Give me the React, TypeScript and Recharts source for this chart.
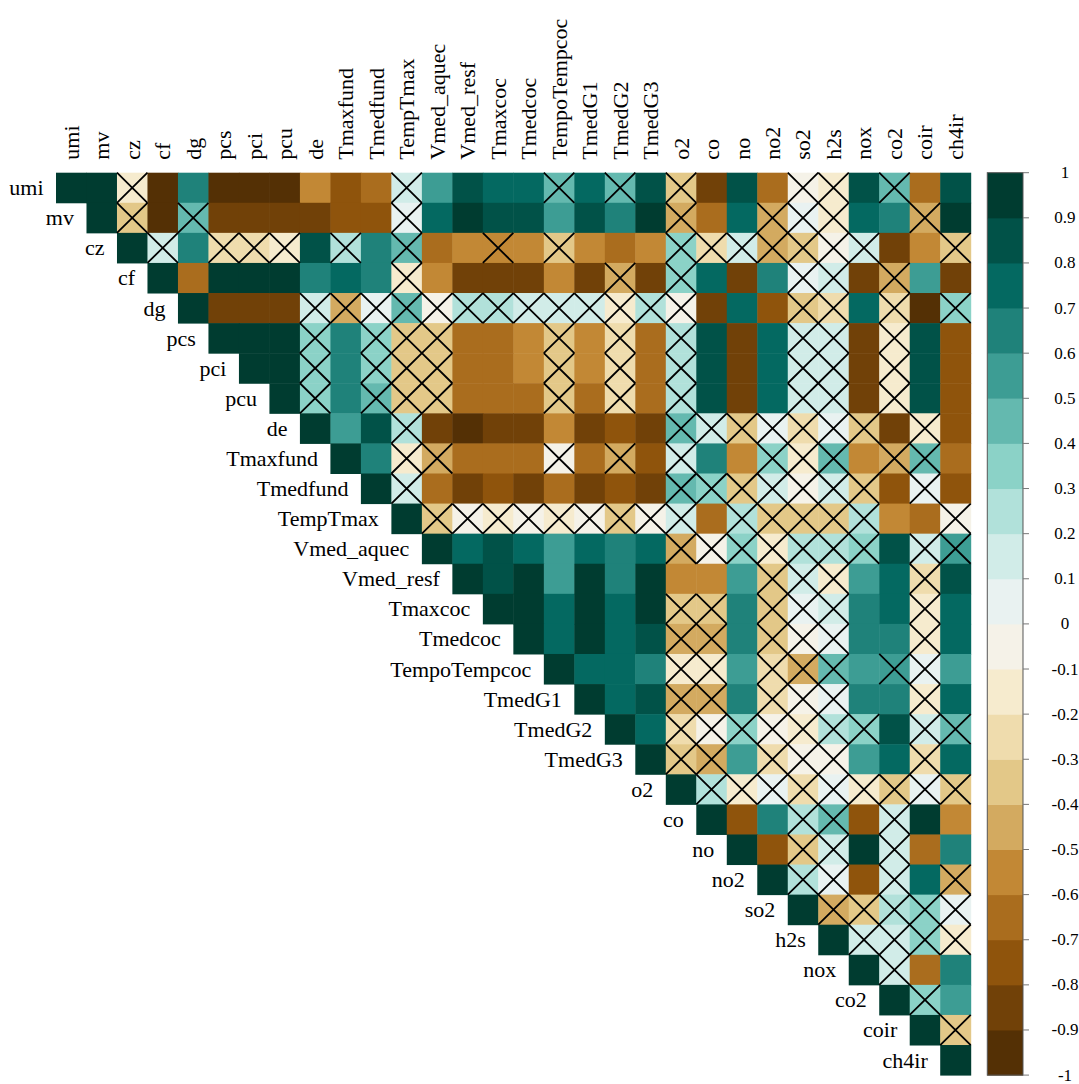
import React from 'react';
import { ScatterChart, Scatter, XAxis, YAxis } from 'recharts';

// Variables of the correlation matrix, in display order
const variables = [
  'umi', 'mv', 'cz', 'cf', 'dg', 'pcs', 'pci', 'pcu', 'de', 'Tmaxfund',
  'Tmedfund', 'TempTmax', 'Vmed_aquec', 'Vmed_resf', 'Tmaxcoc', 'Tmedcoc',
  'TempoTempcoc', 'TmedG1', 'TmedG2', 'TmedG3', 'o2', 'co', 'no', 'no2',
  'so2', 'h2s', 'nox', 'co2', 'coir', 'ch4ir',
];

// Upper triangle of the Pearson matrix: row i holds the coefficients
// against variables i+1 .. n (diagonal omitted)
const correlations: number[][] = [
  [0.97, -0.14, -0.92, 0.66, -0.93, -0.93, -0.92, -0.56, -0.74, -0.66, 0.17, 0.56, 0.86, 0.77, 0.76, 0.44, 0.76, 0.46, 0.84, -0.36, -0.81, 0.85, -0.64, -0.04, -0.13, 0.84, 0.45, -0.63, 0.86],
  [-0.35, -0.91, 0.43, -0.86, -0.86, -0.85, -0.83, -0.76, -0.73, 0.06, 0.74, 0.93, 0.87, 0.86, 0.54, 0.83, 0.64, 0.92, -0.44, -0.62, 0.75, -0.45, 0.07, -0.16, 0.74, 0.66, -0.42, 0.93],
  [0.16, 0.61, -0.26, -0.24, -0.17, 0.86, 0.27, 0.65, 0.47, -0.63, -0.57, -0.53, -0.56, -0.37, -0.55, -0.61, -0.57, 0.36, -0.23, 0.18, -0.43, -0.34, -0.06, 0.14, -0.84, -0.54, -0.33],
  [-0.67, 0.98, 0.98, 0.97, 0.63, 0.72, 0.66, -0.12, -0.58, -0.84, -0.83, -0.82, -0.52, -0.85, -0.46, -0.86, 0.33, 0.76, -0.84, 0.67, 0.04, 0.13, -0.83, -0.41, 0.58, -0.82],
  [-0.84, -0.84, -0.83, 0.12, -0.45, 0.08, 0.44, -0.03, 0.26, 0.24, 0.19, 0.16, 0.18, -0.14, 0.23, -0.07, -0.81, 0.73, -0.77, -0.32, -0.28, 0.72, -0.27, -0.91, 0.38],
  [0.99, 0.98, 0.34, 0.62, 0.37, -0.36, -0.38, -0.66, -0.65, -0.58, -0.37, -0.59, -0.27, -0.64, 0.24, 0.83, -0.83, 0.76, 0.14, 0.15, -0.84, -0.13, 0.82, -0.74],
  [0.99, 0.33, 0.61, 0.36, -0.35, -0.37, -0.66, -0.65, -0.59, -0.36, -0.59, -0.26, -0.64, 0.23, 0.83, -0.83, 0.77, 0.13, 0.15, -0.83, -0.12, 0.82, -0.73],
  [0.32, 0.61, 0.41, -0.34, -0.36, -0.67, -0.66, -0.61, -0.35, -0.61, -0.25, -0.65, 0.22, 0.82, -0.82, 0.76, 0.12, 0.14, -0.82, -0.11, 0.81, -0.72],
  [0.55, 0.84, 0.26, -0.82, -0.91, -0.86, -0.85, -0.56, -0.84, -0.76, -0.83, 0.42, 0.14, -0.36, 0.09, -0.22, 0.06, -0.38, -0.87, -0.12, -0.76],
  [0.64, -0.16, -0.47, -0.65, -0.63, -0.64, -0.08, -0.66, -0.44, -0.72, 0.16, 0.63, -0.57, 0.35, -0.17, 0.43, -0.54, -0.43, 0.46, -0.68],
  [0.18, -0.68, -0.82, -0.78, -0.81, -0.69, -0.83, -0.77, -0.84, 0.47, 0.38, -0.33, 0.17, -0.02, 0.11, -0.31, -0.71, 0.03, -0.78],
  [-0.33, -0.09, -0.11, -0.06, -0.14, -0.07, -0.31, -0.04, 0.12, -0.62, 0.22, -0.32, -0.34, -0.33, 0.21, -0.57, -0.61, -0.05],
  [0.76, 0.82, 0.78, 0.55, 0.74, 0.66, 0.75, -0.43, -0.03, 0.34, -0.13, 0.24, 0.27, 0.32, 0.84, 0.16, 0.52],
  [0.88, 0.91, 0.57, 0.92, 0.68, 0.94, -0.52, -0.53, 0.56, -0.38, 0.11, -0.18, 0.58, 0.77, -0.22, 0.83],
  [0.97, 0.73, 0.95, 0.74, 0.93, -0.37, -0.39, 0.63, -0.36, 0.02, 0.12, 0.64, 0.71, -0.15, 0.72],
  [0.76, 0.96, 0.77, 0.89, -0.42, -0.44, 0.62, -0.34, -0.04, 0.07, 0.63, 0.65, -0.13, 0.74],
  [0.78, 0.75, 0.67, -0.16, -0.14, 0.54, -0.23, -0.42, 0.42, 0.53, 0.51, 0.05, 0.56],
  [0.79, 0.87, -0.46, -0.47, 0.61, -0.29, -0.08, 0.08, 0.62, 0.64, -0.18, 0.71],
  [0.73, -0.27, -0.02, 0.36, -0.09, -0.19, 0.28, 0.39, 0.88, 0.19, 0.48],
  [-0.38, -0.48, 0.53, -0.21, -0.03, -0.01, 0.52, 0.78, -0.24, 0.76],
  [0.27, -0.15, 0.04, -0.26, 0.06, -0.17, -0.32, 0.08, -0.39],
  [-0.77, 0.68, 0.21, 0.41, -0.75, 0.13, 0.94, -0.55],
  [-0.79, -0.35, 0.16, 0.96, 0.14, -0.68, 0.69],
  [0.25, 0.05, -0.78, 0.12, 0.72, -0.46],
  [-0.43, -0.37, 0.28, 0.37, 0.03],
  [0.17, 0.15, 0.34, -0.14],
  [0.11, -0.64, 0.66],
  [0.31, 0.57],
  [-0.37],
];

// Column numbers (1-based) whose coefficient is not significant in each row
const insignificant: number[][] = [
  [3, 12, 17, 19, 21, 25, 26, 28],
  [3, 5, 12, 21, 24, 25, 26, 29],
  [4, 6, 7, 8, 10, 12, 15, 17, 21, 22, 23, 24, 25, 26, 27, 30],
  [12, 19, 21, 25, 26, 28],
  [9, 10, 11, 12, 13, 14, 15, 16, 17, 18, 19, 20, 21, 25, 26, 28, 30],
  [9, 11, 12, 13, 17, 19, 21, 25, 26, 28],
  [9, 11, 12, 13, 17, 19, 21, 25, 26, 28],
  [9, 11, 12, 13, 17, 19, 21, 25, 26, 28],
  [12, 21, 22, 23, 24, 25, 26, 27, 29],
  [12, 13, 17, 19, 21, 24, 25, 26, 28, 29],
  [12, 21, 22, 23, 24, 25, 26, 27, 29],
  [13, 14, 15, 16, 17, 18, 19, 20, 21, 23, 24, 25, 26, 27, 30],
  [21, 22, 23, 24, 25, 26, 27, 29, 30],
  [24, 25, 26, 29],
  [21, 22, 24, 25, 26, 29],
  [21, 22, 24, 25, 26, 29],
  [21, 22, 24, 25, 26, 28, 29],
  [21, 22, 24, 25, 26, 29],
  [21, 22, 23, 24, 25, 26, 27, 29, 30],
  [21, 22, 24, 25, 26, 29],
  [22, 23, 24, 25, 26, 27, 28, 29, 30],
  [25, 26, 28],
  [25, 26, 28],
  [25, 26, 28, 30],
  [26, 27, 28, 29, 30],
  [27, 28, 29, 30],
  [28],
  [29],
  [30],
];

// Colour legend tick labels
const legendTicks = [1, 0.9, 0.8, 0.7, 0.6, 0.5, 0.4, 0.3, 0.2, 0.1, 0, -0.1, -0.2, -0.3, -0.4, -0.5, -0.6, -0.7, -0.8, -0.9, -1];

// BrBG diverging anchors, ramped into 20 classes of width 0.1
const BRBG = ['#543005', '#8C510A', '#BF812D', '#DFC27D', '#F6E8C3', '#F5F5F5', '#C7EAE5', '#80CDC1', '#35978F', '#01665E', '#003C30'];
const N_BINS = 20;

function hexToRgb(h: string) {
  return [1, 3, 5].map((i) => parseInt(h.slice(i, i + 2), 16));
}
function ramp(t: number) {
  const pos = t * (BRBG.length - 1);
  const i = Math.min(Math.floor(pos), BRBG.length - 2);
  const f = pos - i;
  const a = hexToRgb(BRBG[i]);
  const b = hexToRgb(BRBG[i + 1]);
  const c = a.map((v, k) => Math.round(v + (b[k] - v) * f));
  return `rgb(${c[0]},${c[1]},${c[2]})`;
}
const BIN_COLORS = Array.from({ length: N_BINS }, (_, k) => ramp(k / (N_BINS - 1)));
const binOf = (r: number) => Math.min(N_BINS - 1, Math.max(0, Math.floor((r + 1) * 10 + 1e-9)));
const colorOf = (r: number) => BIN_COLORS[binOf(r)];

// Layout
const W = 1079;
const H = 1084;
const N = variables.length;
const PLOT_LEFT = 56;
const PLOT_TOP = 172.7;
const CELL_W = 30.49;
const CELL_H = 30.08;
const X_MAX = 33.5; // matrix columns plus room for the colour legend
const AXIS_H = 160;
const FONT = "'Liberation Serif', 'Times New Roman', Times, serif";

// Legend geometry in x-axis units
const CB_LEFT = 30.544;
const CB_RIGHT = 31.715;
const CB_W = (CB_RIGHT - CB_LEFT) * CELL_W;

// Build scatter data for the cells
type CellDatum = { x: number; y: number; r: number; crossed: boolean };
const cells: CellDatum[] = [];
variables.forEach((_, i) => {
  cells.push({ x: i + 0.5, y: i + 0.5, r: 1, crossed: false });
  (correlations[i] || []).forEach((r, k) => {
    const j = i + 1 + k;
    cells.push({ x: j + 0.5, y: i + 0.5, r, crossed: insignificant[i].includes(j + 1) });
  });
});
const crossedCells = cells.filter((c) => c.crossed);
const diagonal = variables.map((name, i) => ({ x: i + 0.5, y: i + 0.5, name }));

const legendBins = BIN_COLORS.map((color, k) => {
  const center = -1 + (k + 0.5) / 10;
  return { x: (CB_LEFT + CB_RIGHT) / 2, y: (1 - center) * (N / 2), color };
});
const legendFrame = [{ x: (CB_LEFT + CB_RIGHT) / 2, y: N / 2 }];
const legendLabels = legendTicks.map((v) => ({ x: CB_RIGHT, y: (1 - v) * (N / 2), label: String(v) }));

const CellShape = (props: any) => {
  const { cx, cy, payload } = props;
  return (
    <rect
      x={cx - CELL_W / 2}
      y={cy - CELL_H / 2}
      width={CELL_W + 0.5}
      height={CELL_H + 0.5}
      fill={colorOf(payload.r)}
    />
  );
};

const CrossShape = (props: any) => {
  const { cx, cy } = props;
  const hw = CELL_W / 2;
  const hh = CELL_H / 2;
  return (
    <path
      d={`M${cx - hw},${cy - hh}L${cx + hw},${cy + hh}M${cx - hw},${cy + hh}L${cx + hw},${cy - hh}`}
      stroke="#000"
      strokeWidth={1.8}
      fill="none"
    />
  );
};

const RowLabel = (props: any) => {
  const { cx, cy, payload } = props;
  return (
    <text
      x={cx - CELL_W / 2 - 12.5}
      y={cy}
      textAnchor="end"
      dominantBaseline="central"
      fontFamily={FONT}
      fontSize={22}
      fill="#000"
    >
      {payload.name}
    </text>
  );
};

const ColumnTick = (props: any) => {
  const { x, payload } = props;
  const name = variables[Math.round(payload.value - 0.5)];
  const y = PLOT_TOP - 13;
  return (
    <text
      x={x}
      y={y}
      transform={`rotate(-90, ${x}, ${y})`}
      textAnchor="start"
      dominantBaseline="central"
      fontFamily={FONT}
      fontSize={22}
      fill="#000"
    >
      {name}
    </text>
  );
};

const LegendBin = (props: any) => {
  const { cx, cy, payload } = props;
  const h = CELL_H * 1.5;
  return <rect x={cx - CB_W / 2} y={cy - h / 2} width={CB_W} height={h + 0.5} fill={payload.color} />;
};

const LegendFrame = (props: any) => {
  const { cx, cy } = props;
  const h = CELL_H * N;
  return <rect x={cx - CB_W / 2} y={cy - h / 2} width={CB_W} height={h} fill="none" stroke="#555" strokeWidth={1} />;
};

const LegendLabel = (props: any) => {
  const { cx, cy, payload } = props;
  return (
    <g>
      <line x1={cx} y1={cy} x2={cx + 6} y2={cy} stroke="#777" strokeWidth={1} />
      <text
        x={cx + 42}
        y={cy}
        textAnchor="middle"
        dominantBaseline="central"
        fontFamily={FONT}
        fontSize={17}
        fill="#000"
      >
        {payload.label}
      </text>
    </g>
  );
};

const columnTicks = variables.map((_, i) => i + 0.5);

export default function App() {
  const plotW = X_MAX * CELL_W;
  const plotH = N * CELL_H;
  return (
    <div style={{ position: 'absolute', left: 0, top: 0, background: '#fff' }}>
      <ScatterChart
        width={W}
        height={H}
        margin={{
          top: PLOT_TOP - AXIS_H,
          left: PLOT_LEFT,
          right: W - PLOT_LEFT - plotW,
          bottom: H - PLOT_TOP - plotH,
        }}
      >
        <XAxis
          type="number"
          dataKey="x"
          orientation="top"
          domain={[0, X_MAX]}
          ticks={columnTicks}
          interval={0}
          height={AXIS_H}
          tick={<ColumnTick />}
          tickLine={false}
          axisLine={false}
        />
        <YAxis type="number" dataKey="y" domain={[0, N]} reversed hide width={0} />
        <Scatter data={cells} shape={<CellShape />} isAnimationActive={false} />
        <Scatter data={crossedCells} shape={<CrossShape />} isAnimationActive={false} />
        <Scatter data={diagonal} shape={<RowLabel />} isAnimationActive={false} />
        <Scatter data={legendBins} shape={<LegendBin />} isAnimationActive={false} />
        <Scatter data={legendFrame} shape={<LegendFrame />} isAnimationActive={false} />
        <Scatter data={legendLabels} shape={<LegendLabel />} isAnimationActive={false} />
      </ScatterChart>
    </div>
  );
}
